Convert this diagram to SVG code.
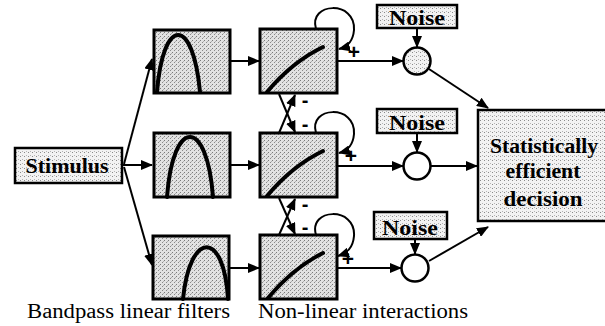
<svg xmlns="http://www.w3.org/2000/svg" width="605" height="326" viewBox="0 0 605 326">
<defs>
<pattern id="stip" width="4" height="4" patternUnits="userSpaceOnUse">
<rect width="4" height="4" fill="#e2e2e2"/>
<rect x="0" y="0" width="1" height="1" fill="#7a7a7a"/>
<rect x="2" y="2" width="1" height="1" fill="#8a8a8a"/>
<rect x="3" y="1" width="1" height="1" fill="#b0b0b0"/>
</pattern>
<pattern id="stipL" width="4" height="4" patternUnits="userSpaceOnUse">
<rect width="4" height="4" fill="#f2f2f2"/>
<rect x="0" y="0" width="1" height="1" fill="#8a8a8a"/>
<rect x="2" y="3" width="1" height="1" fill="#b5b5b5"/>
</pattern>
<marker id="ah" markerWidth="12" markerHeight="10" refX="11" refY="5" orient="auto" markerUnits="userSpaceOnUse">
<path d="M0,0 L12,5 L0,10 Z" fill="#000"/>
</marker>
</defs>
<style>
.box{fill:url(#stip);stroke:#000;stroke-width:3}
.lbox{fill:url(#stipL);stroke:#000;stroke-width:2.5}
.curve{fill:none;stroke:#000;stroke-width:4;stroke-linecap:round}
.sum{fill:#fff;stroke:#000;stroke-width:2.5}
.con line,.con path{stroke:#000;stroke-width:2;fill:none;marker-end:url(#ah)}
.ser{font-family:'Liberation Serif','Times New Roman',Times,Tinos,'Nimbus Roman','Nimbus Roman No9 L','DejaVu Serif','Noto Serif',FreeSerif,serif}
.bt{font-weight:bold;font-size:21px;text-anchor:middle}
</style>

<g id="stimulus">
<rect class="lbox" x="15" y="148" width="107" height="35"/>
<text class="ser bt" x="67" y="173" textLength="83" lengthAdjust="spacingAndGlyphs">Stimulus</text>
</g>

<g id="filter1">
<rect class="box" x="154" y="30" width="76" height="63"/>
<path class="curve" d="M157,92 C163,16 193,16 200,92"/>
</g>
<g id="filter2">
<rect class="box" x="154" y="133" width="76" height="64"/>
<path class="curve" d="M167,197 C173,117 207,117 213,197"/>
</g>
<g id="filter3">
<rect class="box" x="153" y="236" width="76" height="63"/>
<path class="curve" d="M183,299 C190,230 224,230 228,299"/>
</g>

<g id="nonlinear1">
<rect class="box" x="260" y="29" width="77" height="64"/>
<path class="curve" d="M267,92 Q292,62 323,47"/>
</g>
<g id="nonlinear2">
<rect class="box" x="260" y="133" width="77" height="64"/>
<path class="curve" d="M267,196 Q292,166 323,151"/>
</g>
<g id="nonlinear3">
<rect class="box" x="260" y="235" width="77" height="64"/>
<path class="curve" d="M268,298 Q293,268 323,253"/>
</g>

<g id="noise1">
<rect class="lbox" x="377" y="5" width="80" height="23"/>
<text class="ser bt" x="417" y="25" textLength="56" lengthAdjust="spacingAndGlyphs">Noise</text>
</g>
<g id="noise2">
<rect class="lbox" x="377" y="109" width="80" height="24"/>
<text class="ser bt" x="417" y="130" textLength="56" lengthAdjust="spacingAndGlyphs">Noise</text>
</g>
<g id="noise3">
<rect class="lbox" x="374" y="212" width="73" height="27"/>
<text class="ser bt" x="410" y="235" textLength="56" lengthAdjust="spacingAndGlyphs">Noise</text>
</g>

<g id="sum1"><circle cx="417" cy="61" r="13.5" fill="url(#stipL)" stroke="#000" stroke-width="2.5"/></g>
<g id="sum2"><circle class="sum" cx="417" cy="166" r="13.5"/></g>
<g id="sum3"><circle class="sum" cx="415" cy="268" r="13.5"/></g>

<g id="decision">
<rect class="lbox" x="478" y="110" width="140" height="111"/>
<text class="ser bt" x="544" y="153" textLength="108" lengthAdjust="spacingAndGlyphs">Statistically</text>
<text class="ser bt" x="543" y="178" textLength="75" lengthAdjust="spacingAndGlyphs">efficient</text>
<text class="ser bt" x="543" y="206" textLength="79" lengthAdjust="spacingAndGlyphs">decision</text>
</g>

<g id="connectors" class="con">
<line x1="124" y1="164" x2="152" y2="59"/>
<line x1="123" y1="165" x2="152" y2="165"/>
<line x1="124" y1="167" x2="152" y2="265"/>
<line x1="231" y1="61" x2="259" y2="61"/>
<line x1="231" y1="165" x2="259" y2="165"/>
<line x1="230" y1="268" x2="259" y2="268"/>
<line x1="338" y1="61" x2="403" y2="61"/>
<line x1="338" y1="166" x2="403" y2="166"/>
<line x1="338" y1="268" x2="401" y2="268"/>
<line x1="417" y1="28" x2="417" y2="47"/>
<line x1="417" y1="133" x2="417" y2="152"/>
<line x1="415" y1="239" x2="415" y2="254"/>
<line x1="429" y1="69" x2="488" y2="108"/>
<line x1="431" y1="166" x2="477" y2="166"/>
<line x1="429" y1="261" x2="488" y2="227"/>
<line x1="279" y1="94" x2="295" y2="132"/>
<line x1="279" y1="133" x2="295" y2="95"/>
<line x1="279" y1="198" x2="295" y2="234"/>
<line x1="279" y1="235" x2="295" y2="199"/>
<path d="M316,29 C308,2 356,0 354,30 C353,42 347,47 339,49"/>
<path d="M316,133 C308,106 356,104 354,134 C353,146 347,151 339,153"/>
<path d="M316,235 C308,208 356,206 354,236 C353,248 347,253 338,256"/>
</g>

<g id="signs" font-family="Liberation Sans, DejaVu Sans, sans-serif" font-weight="bold" text-anchor="middle">
<text x="354" y="59" font-size="21">+</text>
<text x="351" y="163" font-size="21">+</text>
<text x="348" y="266" font-size="21">+</text>
<text x="305" y="107" font-size="20">-</text>
<text x="305" y="131" font-size="20">-</text>
<text x="305" y="211" font-size="20">-</text>
<text x="305" y="234" font-size="20">-</text>
</g>

<g id="captions" class="ser" font-size="20">
<text x="27" y="318" textLength="203" lengthAdjust="spacingAndGlyphs">Bandpass linear filters</text>
<text x="258" y="318" textLength="210" lengthAdjust="spacingAndGlyphs">Non-linear interactions</text>
</g>
</svg>
